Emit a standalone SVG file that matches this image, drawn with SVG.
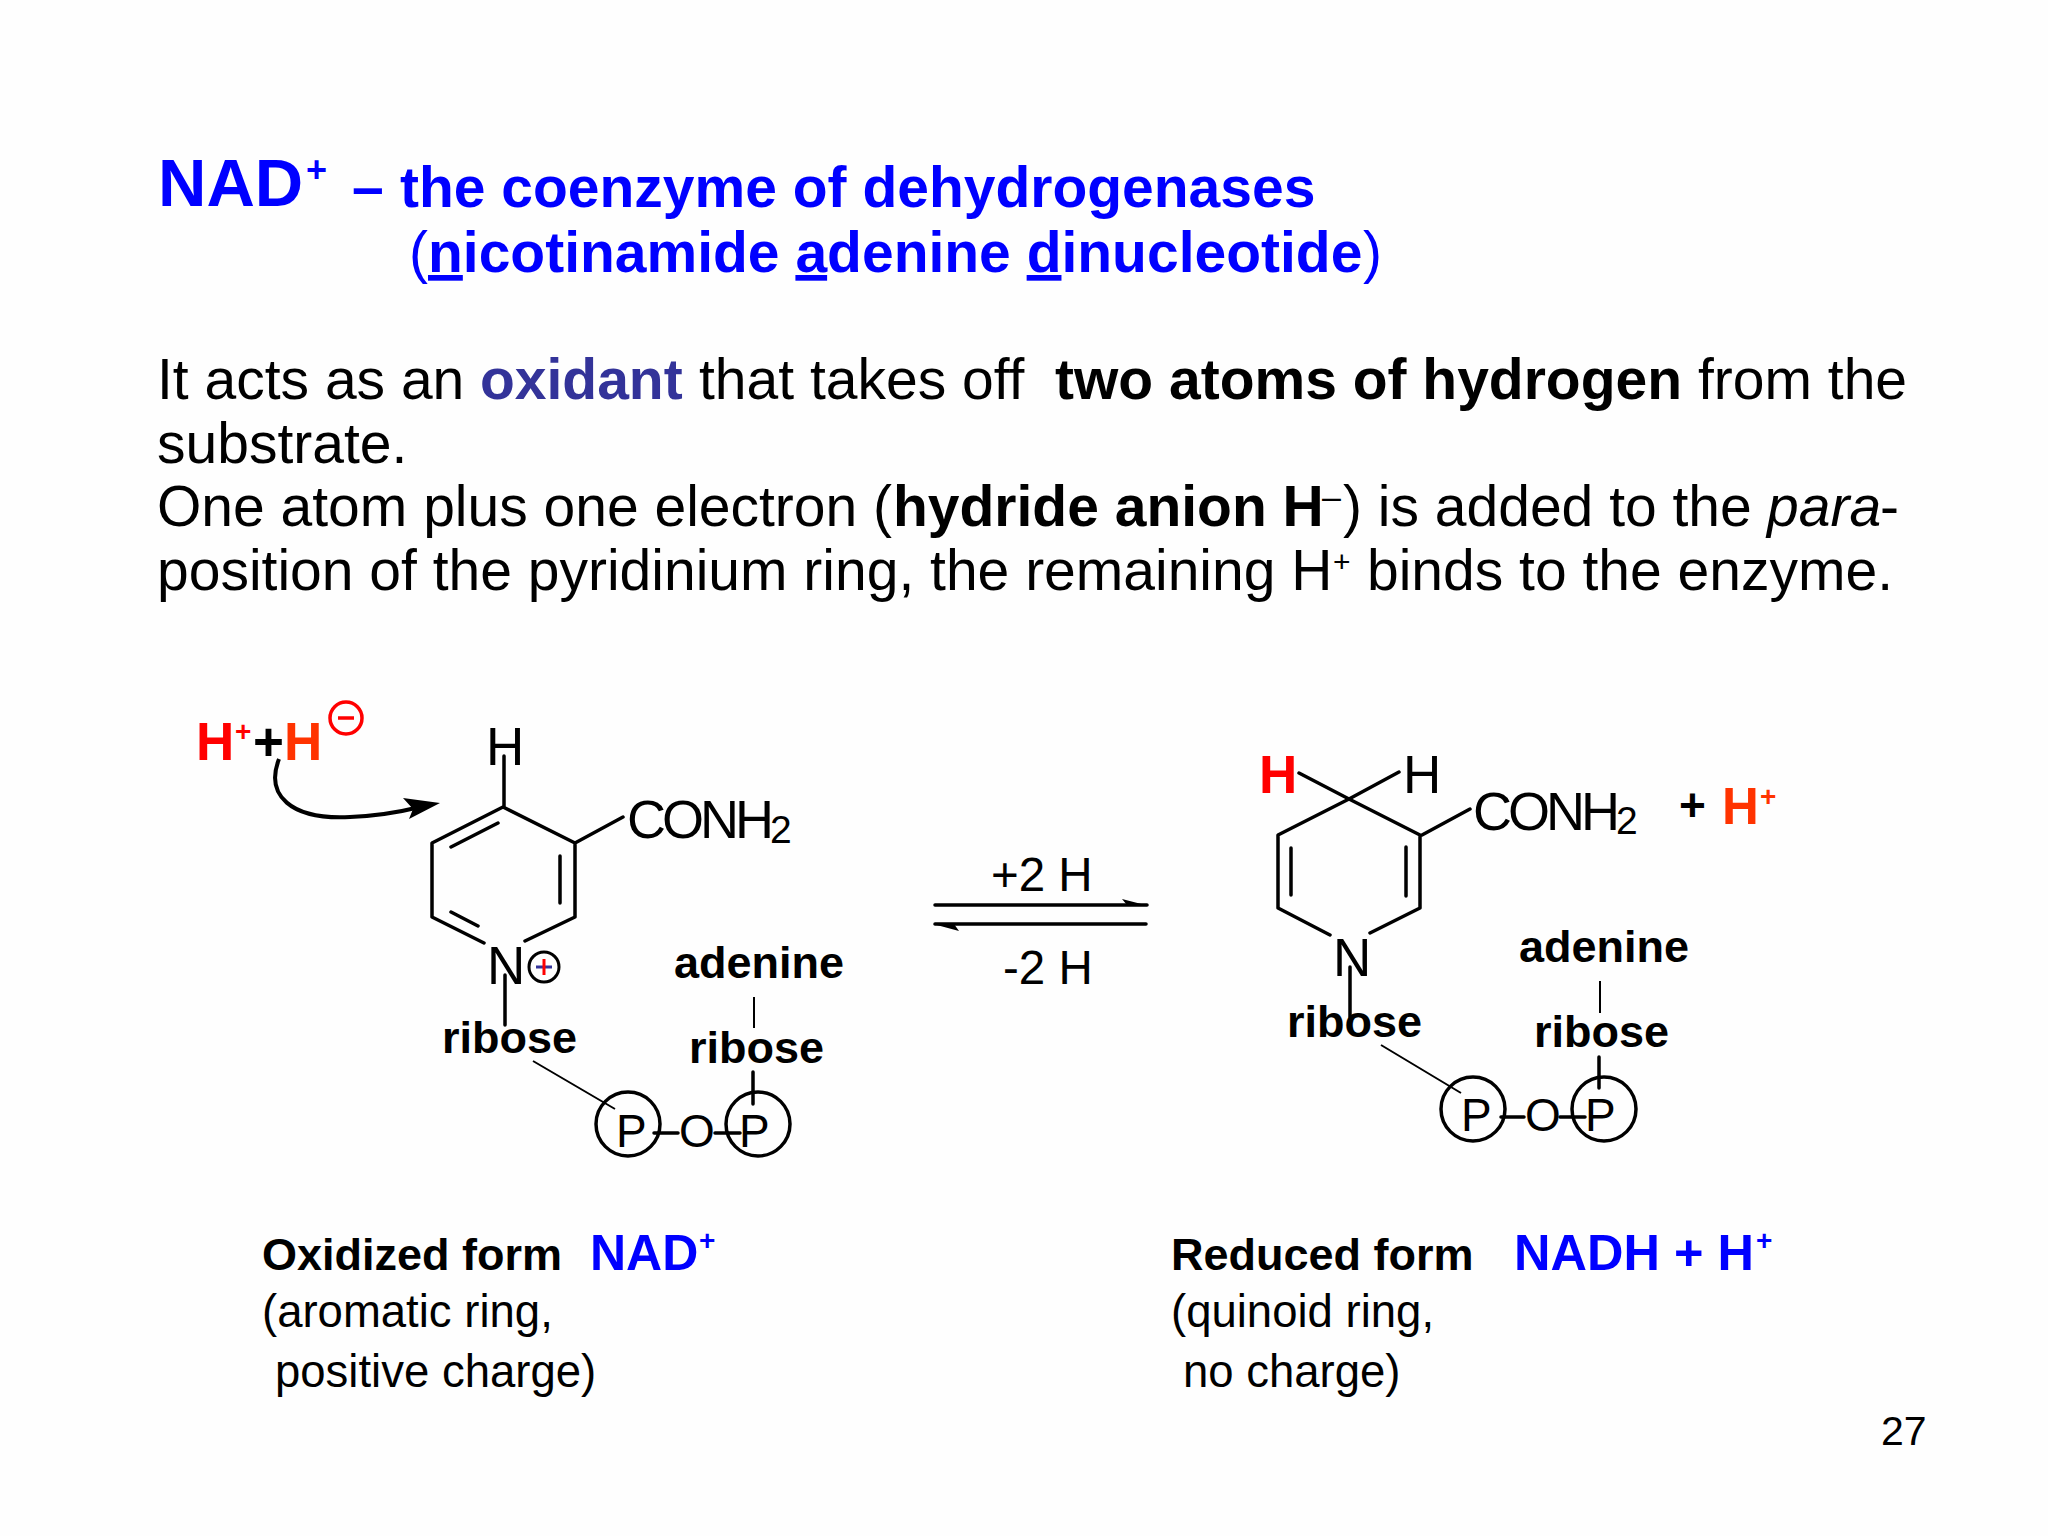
<svg xmlns="http://www.w3.org/2000/svg" width="2048" height="1536" viewBox="0 0 2048 1536">
<defs><style>
text{font-family:"Liberation Sans",Arial,sans-serif;fill:#000}
.b{font-weight:700}
.blue{fill:#0000ff}
.red{fill:#ff0000}
.org{fill:#ff3300}
.t{font-size:57px;font-weight:700;fill:#0000ff}
.p{font-size:57px}
.cap{font-size:45.5px}
.capb{font-size:45px;font-weight:700}
.lbl{font-size:45px;font-weight:700}
.at{font-size:53px}
.con{font-size:54px;letter-spacing:-4px}
.pp{font-size:46px}
.bond{fill:none;stroke:#000;stroke-width:3.5;stroke-linecap:round;stroke-linejoin:round}
.thin{fill:none;stroke:#000;stroke-width:2}
.circ{fill:none;stroke:#000;stroke-width:3.5}
</style></defs>
<rect width="2048" height="1536" fill="#fefefe"/>
<g id="title">
<text class="blue b" x="158" y="206" font-size="67">NAD</text>
<text class="blue b" x="306" y="182" font-size="36">+</text>
<text class="t" x="352" y="207">–</text>
<text class="t" x="400" y="207">the coenzyme of dehydrogenases</text>
<text class="blue" x="409" y="272" font-size="57">(</text>
<text class="t" x="428" y="272"><tspan text-decoration="underline">n</tspan>icotinamide <tspan text-decoration="underline">a</tspan>denine <tspan text-decoration="underline">d</tspan>inucleotide</text>
<text class="blue" x="1363" y="272" font-size="57">)</text>
</g>
<g id="body">
<text class="p" x="157" y="399">It acts as an</text>
<text class="p b" x="480" y="399" style="fill:#333399">oxidant</text>
<text class="p" x="699" y="399">that takes off</text>
<text class="p b" x="1055" y="399">two atoms of hydrogen</text>
<text class="p" x="1698" y="399">from the</text>
<text class="p" x="157" y="463">substrate.</text>
<text class="p" x="157" y="526">One atom plus one electron (</text>
<text class="p b" x="893" y="526">hydride anion H</text>
<text x="1322" y="508" font-size="34">–</text>
<text class="p" x="1343" y="526">) is added to the</text>
<text class="p" x="1767" y="526" font-style="italic">para</text>
<text class="p" x="1880" y="526">-</text>
<text class="p" x="157" y="590">position of the pyridinium ring, the remaining H</text>
<text x="1333" y="572" font-size="30">+</text>
<text class="p" x="1367" y="590">binds to the enzyme.</text>
</g>
<g id="connectors">
<path class="bond" d="M503 807L575 843V917L525 941M484 943L432 917V843L503 807M498 823L451 847M560 856V903M451 912L478 926M504 756V807M575 843L623 817M505 975V1025M753 1072V1104M654 1133H678M715 1133H740"/>
<path class="thin" d="M754 997V1028M533 1061L615 1109"/>
<path d="M279 759C265 795 290 820 350 817C375 816 400 812 420 807" fill="none" stroke="#000" stroke-width="4"/>
<path d="M440 803L403 798L413 809L409 819Z" fill="#000"/>
<path class="bond" d="M1349 799L1420 835V908L1370 933M1330 935L1278 908V835L1349 799M1291 848V895M1406 847V896M1299 773L1349 799L1399 772M1422 835L1470 809M1350 967V1017M1599 1057V1088M1501 1117H1524M1560 1117H1585"/>
<path class="thin" d="M1600 981V1013M1381 1045L1461 1093"/>
<path class="bond" d="M935 905H1147M935 924H1146"/>
<path d="M1149 906L1122 899L1127 905Z M933 924L959 931L954 924Z" fill="#000"/>
</g>
<g id="hydride">
<text class="b red" x="196" y="760" font-size="53">H</text>
<text class="b red" x="235" y="741" font-size="28">+</text>
<text class="b" x="253" y="760" font-size="53">+</text>
<text class="b org" x="284" y="760" font-size="53">H</text>
<circle cx="346" cy="718" r="16" fill="none" stroke="#ff0000" stroke-width="3.5"/>
<path d="M338 718H354" stroke="#ff0000" stroke-width="3.5"/>
</g>
<g id="nad">
<text class="at" x="486" y="765">H</text>
<text class="con" x="627" y="838">CONH<tspan font-size="39" dy="5" letter-spacing="0">2</tspan></text>
<text class="at" x="487" y="984">N</text>
<circle cx="544" cy="967" r="15" fill="none" stroke="#000" stroke-width="3"/>
<path d="M536 967H552" stroke="#333399" stroke-width="3"/><path d="M544 959V975" stroke="#ff0000" stroke-width="3"/>
<text class="lbl" x="442" y="1053">ribose</text>
<text class="lbl" x="674" y="978">adenine</text>
<text class="lbl" x="689" y="1063">ribose</text>
<circle class="circ" cx="628" cy="1124" r="32"/>
<circle class="circ" cx="758" cy="1124" r="32"/>
<text class="pp" x="616" y="1147">P</text>
<text class="pp" x="679" y="1147">O</text>
<text class="pp" x="739" y="1147">P</text>
</g>
<g id="equilibrium">
<text x="991" y="891" font-size="47.5">+2 H</text>
<text x="1003" y="984" font-size="47.5">-2 H</text>
</g>
<g id="nadh">
<text class="b red" x="1259" y="793" font-size="53">H</text>
<text class="at" x="1403" y="793">H</text>
<text class="con" x="1473" y="830">CONH<tspan font-size="39" dy="4" letter-spacing="0">2</tspan></text>
<text class="b" x="1679" y="821" font-size="46">+</text>
<text class="b org" x="1722" y="824" font-size="51">H</text>
<text class="b org" x="1760" y="806" font-size="28">+</text>
<text class="at" x="1333" y="976">N</text>
<text class="lbl" x="1287" y="1037">ribose</text>
<text class="lbl" x="1519" y="962">adenine</text>
<text class="lbl" x="1534" y="1047">ribose</text>
<circle class="circ" cx="1473" cy="1109" r="32"/>
<circle class="circ" cx="1604" cy="1109" r="32"/>
<text class="pp" x="1461" y="1131">P</text>
<text class="pp" x="1525" y="1131">O</text>
<text class="pp" x="1585" y="1131">P</text>
</g>
<g id="captions">
<text class="capb" x="262" y="1270">Oxidized form</text>
<text class="b blue" x="590" y="1270" font-size="50">NAD</text>
<text class="b blue" x="699" y="1250" font-size="28">+</text>
<text class="cap" x="262" y="1327">(aromatic ring,</text>
<text class="cap" x="275" y="1387">positive charge)</text>
<text class="capb" x="1171" y="1270">Reduced form</text>
<text class="b blue" x="1514" y="1270" font-size="50.5">NADH + H</text>
<text class="b blue" x="1756" y="1250" font-size="28">+</text>
<text class="cap" x="1171" y="1327">(quinoid ring,</text>
<text class="cap" x="1183" y="1387">no charge)</text>
<text x="1881" y="1445" font-size="41">27</text>
</g>
</svg>
